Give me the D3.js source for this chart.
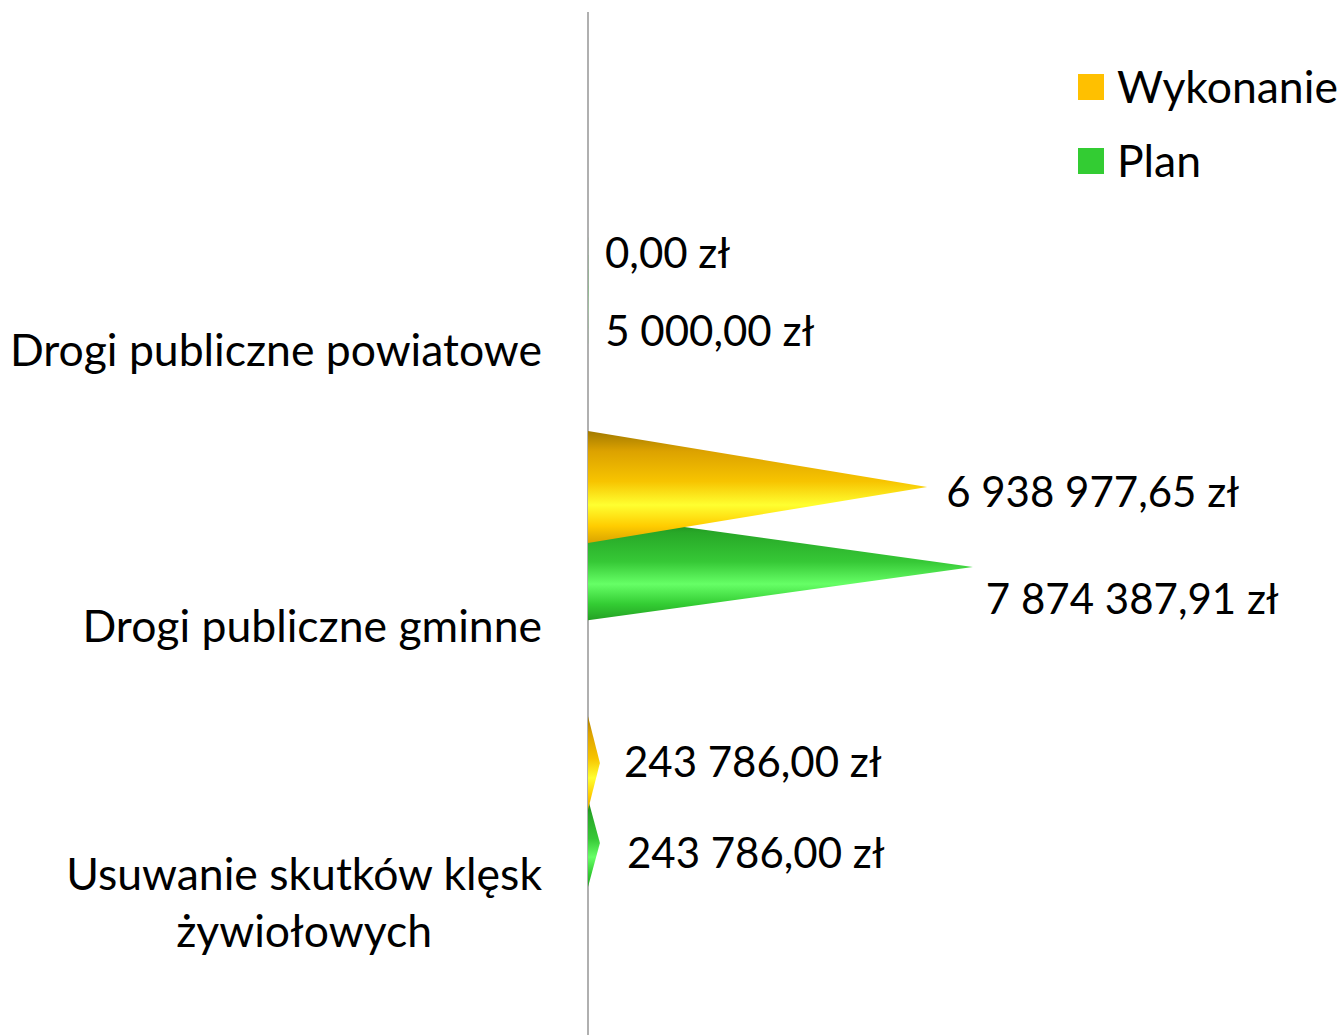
<!DOCTYPE html>
<html><head><meta charset="utf-8">
<script src="https://cdn.jsdelivr.net/npm/d3@7"></script>
<style>
body{margin:0;background:#fff;}
svg{display:block;}
text{font-family:Lato,"Open Sans",sans-serif;fill:#000;}
</style>
</head><body>
<svg id="chart" width="1339" height="1035"></svg>
<script>
// ---- data ----
const categories = ["Drogi publiczne powiatowe", "Drogi publiczne gminne", "Usuwanie skutków klęsk żywiołowych"];
const categoryLines = [["Drogi publiczne powiatowe"], ["Drogi publiczne gminne"], ["Usuwanie skutków klęsk", "żywiołowych"]];
const seriesNames = ["Wykonanie", "Plan"];
const wykonanie = [0.00, 6938977.65, 243786.00];
const plan = [5000.00, 7874387.91, 243786.00];

// ---- styling / layout ----
const legendColors = ["#FFC000", "#33CC33"];
const gradStops = [
  [["0%","#a27a00"],["18%","#dca200"],["45%","#f7c400"],["66%","#ffff30"],["85%","#ffcc00"],["100%","#d9a300"]],
  [["0%","#157a15"],["18%","#28a828"],["45%","#36c836"],["66%","#66ff66"],["85%","#33cc33"],["100%","#23a023"]]
];
const seriesOffset = [-139, -59];
const labelNudge = [
  [[0, 42], [2, 5], [7, -1]],
  [[0, 40], [-4, 32], [10, 10]]
];

const svg = d3.select("#chart");
const x = d3.scaleLinear().domain([0, 8000000]).range([588, 979]);
const y = d3.scalePoint().domain(categories).range([350, 902]);
const coneH = d3.scaleLinear().domain([488, 843]).range([112, 88]);

const loc = d3.formatLocale({decimal: ",", thousands: " ", grouping: [3], currency: ["", " zł"]});
const fmt = loc.format("$,.2f");

const defs = svg.append("defs");
seriesNames.forEach((s, i) => {
  const g = defs.append("linearGradient").attr("id", "grad" + i)
    .attr("x1", 0).attr("y1", 0).attr("x2", 0).attr("y2", 1);
  gradStops[i].forEach(st => g.append("stop").attr("offset", st[0]).attr("stop-color", st[1]));
});

const seriesData = [wykonanie, plan];

// axis line
svg.append("line").attr("x1", x(0)).attr("x2", x(0)).attr("y1", 12).attr("y2", 1035)
  .attr("stroke", "#b0b0b0").attr("stroke-width", 2);

// cones: plan first, wykonanie in front
[1, 0].forEach(si => {
  svg.append("g").selectAll("path").data(seriesData[si].map((v, ci) => ({v, ci})))
    .join("path")
    .attr("fill", `url(#grad${si})`)
    .attr("d", d => {
      const cy = y(categories[d.ci]) + seriesOffset[si];
      const h = coneH(cy);
      return `M${x(0)},${cy - h / 2}L${x(d.v)},${cy}L${x(0)},${cy + h / 2}Z`;
    });
});

// value labels
seriesData.forEach((arr, si) => {
  svg.append("g").selectAll("text").data(arr.map((v, ci) => ({v, ci})))
    .join("text")
    .attr("x", d => x(d.v) + 17 + labelNudge[si][d.ci][0])
    .attr("y", d => y(categories[d.ci]) + seriesOffset[si] + labelNudge[si][d.ci][1])
    .attr("dy", "0.36em")
    .style("font-size", "42px")
    .text(d => fmt(d.v));
});

// category labels
const catG = svg.append("g");
categories.forEach((c, ci) => {
  const lines = categoryLines[ci];
  const lh = 57;
  const t = catG.append("text").style("font-size", "44.5px").attr("text-anchor", "middle");
  const spans = lines.map((ln, li) => t.append("tspan")
    .attr("y", y(c) + (li - (lines.length - 1) / 2) * lh)
    .attr("dy", "0.36em").text(ln));
  let maxW = 0;
  spans.forEach(sp => { maxW = Math.max(maxW, sp.node().getComputedTextLength()); });
  spans.forEach(sp => sp.attr("x", 542 - maxW / 2));
});

// legend
const leg = svg.append("g").attr("transform", "translate(1078,74)");
seriesNames.forEach((s, i) => {
  const g = leg.append("g").attr("transform", `translate(0,${i * 74})`);
  g.append("rect").attr("width", 26).attr("height", 26).attr("fill", legendColors[i]);
  g.append("text").attr("x", 39).attr("y", 13).attr("dy", "0.36em").style("font-size", "44.5px").text(s);
});
</script>
</body></html>
